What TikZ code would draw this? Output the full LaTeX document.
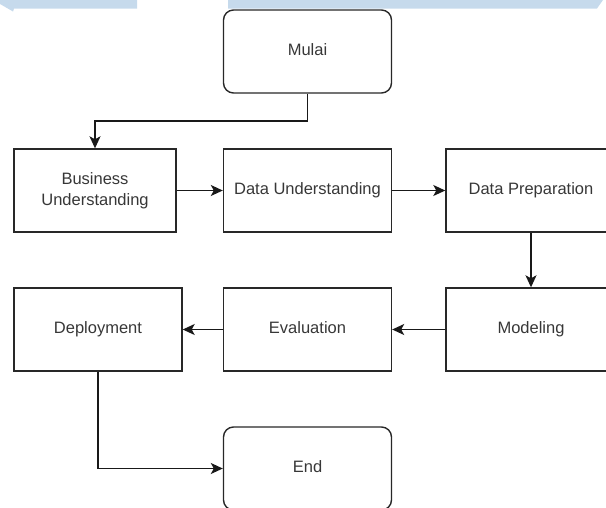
\documentclass[tikz,border=0pt]{standalone}
\usepackage{fontspec}
\setmainfont{Liberation Sans}
\usetikzlibrary{arrows.meta}
\definecolor{pita}{RGB}{198,218,236}
\definecolor{garistepi}{RGB}{40,40,40}
\definecolor{teks}{RGB}{55,55,55}

\begin{document}
\begin{tikzpicture}[
        x=1pt, y=-1pt,
        every node/.style={
            draw=garistepi,
            line width=1.4pt,
            minimum width=168pt,
            minimum height=83pt,
            inner sep=0pt,
            align=center,
            text=teks,
            font=\fontsize{16.5}{20.5}\selectfont
        },
        satu/.style={text height=12pt, text depth=3.5pt},
        terminal/.style={satu, rounded corners=10pt},
        garis/.style={-{Stealth[length=12pt,width=11pt,inset=3pt]}, line width=1.4pt, draw=black!90}
    ]

        \useasboundingbox (0,0) rectangle (606,507);
        \clip (0,0) rectangle (606,507);

        % pita biru di atas
        \fill[pita] (0,0) -- (137,0) -- (137,8.5) -- (14,8.5) -- (13,11.5) -- (0,4) -- cycle;
        \fill[pita] (228,0) -- (603,0) -- (597,8.5) -- (228,8.5) -- cycle;

        % awal
        \node[terminal] (mulai) at (307.5,51.5) {Mulai};

        % baris 1
        \node[minimum width=162pt] (bisnis) at (95,190.5) {Business\\ Understanding};
        \node[satu] (data) at (307.5,190.5) {Data Understanding};
        \node[satu, minimum width=170pt] (prep) at (531,190.5) {Data Preparation};

        % baris 2
        \node[satu] (deploy) at (98,329.5) {Deployment};
        \node[satu] (eval) at (307.5,329.5) {Evaluation};
        \node[satu, minimum width=170pt] (model) at (531,329.5) {Modeling};

        % akhir
        \node[terminal] (selesai) at (307.5,468.5) {End};

        % titik belok
        \coordinate (belok) at (307.5,121);

        % garis
        \draw[garis, -] (mulai) -- (belok);
        \draw[garis] (belok) -| (bisnis);

        \draw[garis] (bisnis) -- (data);
        \draw[garis] (data) -- (prep);
        \draw[garis] (prep) -- (model);

        \draw[garis] (model) -- (eval);
        \draw[garis] (eval) -- (deploy);

        \draw[garis] (deploy) |- (selesai);

    \end{tikzpicture}
\end{document}
